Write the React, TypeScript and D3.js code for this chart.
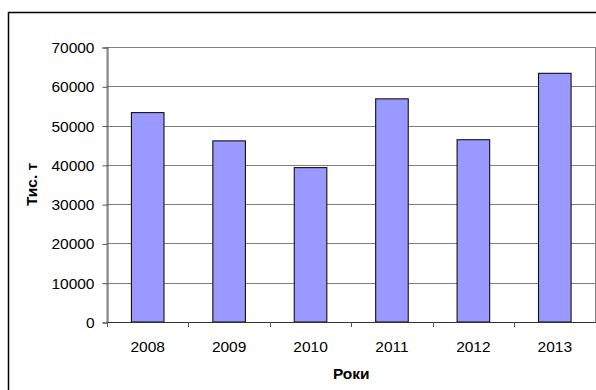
import React, {useEffect, useRef} from 'react'
import * as d3 from 'd3';

const years = ['2008', '2009', '2010', '2011', '2012', '2013'];
const values = [53300, 46100, 39300, 56800, 46400, 63300];
const yTicks = [0, 10000, 20000, 30000, 40000, 50000, 60000, 70000];

const yTitle = 'Тис. т';
const xTitle = 'Роки';

export default function App(){
    const svgRef = useRef<SVGSVGElement>(null);

    const W = 596;
    const H = 390;
    const margin = {top: 47, right: 0.5, left: 107, bottom: 68};
    const width = W - margin.left - margin.right;
    const height = H - margin.top - margin.bottom;

    useEffect(() => {
        const svg = d3.select(svgRef.current);
        svg.selectAll("*").remove();

        const font = 'Arial, "Liberation Sans", sans-serif';
        const fs = 15.5;

        // outer chart border (cut by the picture on the right and bottom)
        svg.append('rect')
            .attr('x', 8.5).attr('y', 12.5)
            .attr('width', 700).attr('height', 500)
            .attr('fill', 'white')
            .attr('stroke', '#000')
            .attr('stroke-width', 1.5);

        const xscale = d3.scaleBand()
            .domain(years)
            .range([0, width])
            .paddingInner(0.6)
            .paddingOuter(0.3);

        const yscale = d3.scaleLinear()
            .domain([0, 70000])
            .range([height, 0]);

        const g = svg.append('g')
            .attr('transform', `translate(${margin.left},${margin.top})`);

        // plot box
        g.append('rect')
            .attr('x', 0).attr('y', 0.5)
            .attr('width', width).attr('height', height)
            .attr('fill', 'none')
            .attr('stroke', '#808080')
            .attr('stroke-width', 1);

        // gridlines
        g.append('g')
            .selectAll('line')
            .data(yTicks.slice(1))
            .join('line')
            .attr('x1', 0).attr('x2', width)
            .attr('y1', d => Math.round(yscale(d)) + 0.5)
            .attr('y2', d => Math.round(yscale(d)) + 0.5)
            .attr('stroke', '#808080')
            .attr('stroke-width', 1);

        // bars
        g.append('g')
            .selectAll('rect')
            .data(values)
            .join('rect')
            .attr('x', (d, i) => (xscale(years[i]) as number))
            .attr('y', d => yscale(d))
            .attr('width', xscale.bandwidth())
            .attr('height', d => height - yscale(d))
            .attr('fill', '#9999FF')
            .attr('stroke', '#111')
            .attr('stroke-width', 1.1);

        // y axis
        const yaxis = d3.axisLeft(yscale)
            .tickValues(yTicks)
            .tickSize(5)
            .tickPadding(8)
            .tickFormat(d => String(d));

        g.append('g')
            .attr('transform', 'translate(0.5,0.5)')
            .call(yaxis)
            .call(s => s.select('.domain').attr('stroke', '#555'))
            .call(s => s.selectAll('.tick line').attr('stroke', '#555'))
            .call(s => s.selectAll('.tick text')
                .attr('font-family', font)
                .attr('font-size', fs)
                .attr('fill', '#000'));

        // x axis with ticks at category boundaries
        const step = xscale.step();
        const bounds = d3.range(years.length + 1).map(i => i * step);

        g.append('line')
            .attr('x1', 0).attr('x2', width)
            .attr('y1', height + 0.5).attr('y2', height + 0.5)
            .attr('stroke', '#333')
            .attr('stroke-width', 1);

        g.append('g')
            .selectAll('line')
            .data(bounds)
            .join('line')
            .attr('x1', d => Math.round(d) + 0.5)
            .attr('x2', d => Math.round(d) + 0.5)
            .attr('y1', height)
            .attr('y2', height + 5)
            .attr('stroke', '#555');

        g.append('g')
            .selectAll('text')
            .data(years)
            .join('text')
            .attr('x', d => (xscale(d) as number) + xscale.bandwidth() / 2)
            .attr('y', height + 30)
            .attr('text-anchor', 'middle')
            .attr('font-family', font)
            .attr('font-size', fs)
            .attr('fill', '#000')
            .text(d => d);

        // axis titles
        svg.append('text')
            .attr('x', margin.left + width / 2)
            .attr('y', 379)
            .attr('text-anchor', 'middle')
            .attr('font-family', font)
            .attr('font-size', fs)
            .attr('font-weight', 'bold')
            .attr('fill', '#000')
            .text(xTitle);

        svg.append('text')
            .attr('transform', `translate(37,${margin.top + height / 2}) rotate(-90)`)
            .attr('text-anchor', 'middle')
            .attr('font-family', font)
            .attr('font-size', fs)
            .attr('font-weight', 'bold')
            .attr('fill', '#000')
            .text(yTitle);
    });

    return (
        <svg
            ref={svgRef}
            width={W}
            height={H}
            style={{position: 'absolute', left: 0, top: 0, background: 'white'}}
        >
        </svg>
    );
}
